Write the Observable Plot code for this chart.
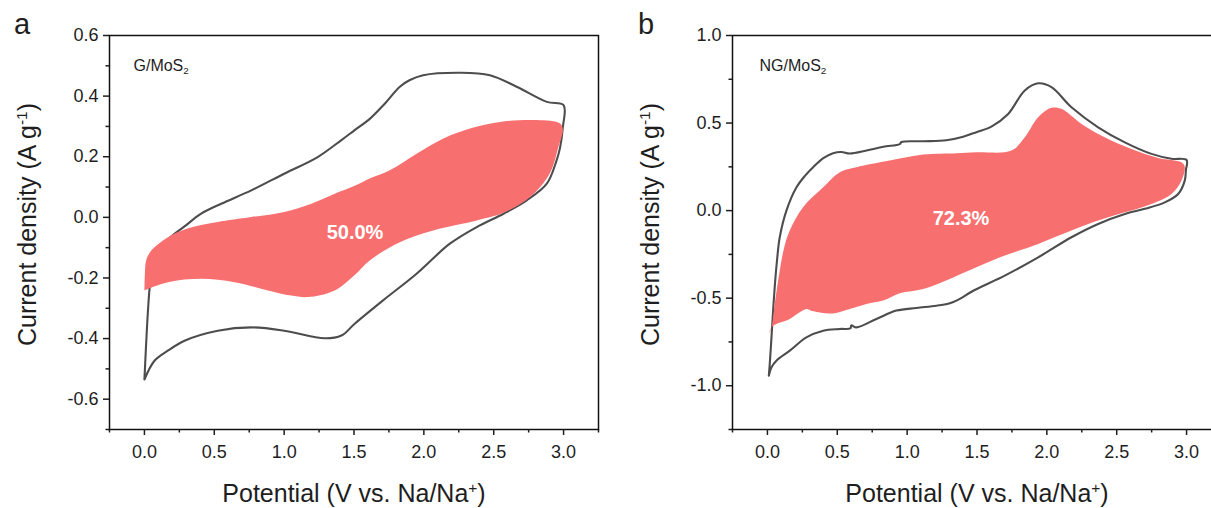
<!DOCTYPE html>
<html>
<head>
<meta charset="utf-8">
<script src="https://cdn.jsdelivr.net/npm/d3@7"></script>
<script src="https://cdn.jsdelivr.net/npm/@observablehq/plot@0.6"></script>
<style>
  html, body { margin: 0; padding: 0; background: #fff; width: 1211px; height: 508px; overflow: hidden; }
  #wrap { position: relative; width: 1211px; height: 508px; overflow: hidden; font-family: "Liberation Sans", Arial, sans-serif; color: #1e1e1e; }
  .panel { position: absolute; top: 0; width: 605px; height: 508px; }
  .panel svg { max-width: none !important; width: 605px; height: 508px; display: block; }
  .letter { position: absolute; top: 10px; font-size: 29px; line-height: 29px; z-index: 5; }
</style>
</head>
<body>
<div id="wrap">
  <div id="pa" class="panel" style="left:0px"></div>
  <div id="pb" class="panel" style="left:622.5px"></div>
  <div class="letter" style="left:14px">a</div>
  <div class="letter" style="left:638px">b</div>
</div>
<script>
// ---------- tick values & labels ----------
const xMajor = [0, 0.5, 1, 1.5, 2, 2.5, 3];
const xMinor = [-0.25, 0.25, 0.75, 1.25, 1.75, 2.25, 2.75, 3.25];
const xDomain = [-0.25, 3.25];
const aYMajor = [-0.6, -0.4, -0.2, 0, 0.2, 0.4, 0.6];
const aYMinor = [-0.7, -0.5, -0.3, -0.1, 0.1, 0.3, 0.5];
const aYDomain = [-0.7, 0.6];
const bYMajor = [-1, -0.5, 0, 0.5, 1];
const bYMinor = [-1.25, -0.75, -0.25, 0.25, 0.75];
const bYDomain = [-1.25, 1.0];

const xTitle = [["Potential (V vs. Na/Na", ""], ["+", "sup"], [")", ""]];
const yTitle = [["Current density (A g", ""], ["-1", "sup"], [")", ""]];
const aSample = [["G/MoS", ""], ["2", "sub"]];
const bSample = [["NG/MoS", ""], ["2", "sub"]];
const aPercent = "50.0%";
const bPercent = "72.3%";

// ---------- panel a: G/MoS2, total CV loop ----------
const aCvV = [0.000, 0.012, 0.024, 0.040, 0.065, 0.120, 0.200, 0.287, 0.406, 0.550, 0.765, 1.000, 1.240, 1.410, 1.505, 1.613, 1.720, 1.828, 1.900, 1.995, 2.258, 2.473, 2.664, 2.880, 3.000,
              2.995, 2.975, 2.950, 2.880, 2.736, 2.570, 2.378, 2.186, 1.948, 1.708, 1.505, 1.410, 1.290, 1.000, 0.765, 0.525, 0.287, 0.167, 0.072, 0.000];
const aCvI = [-0.535, -0.420, -0.318, -0.220, -0.150, -0.095, -0.060, -0.030, 0.012, 0.045, 0.089, 0.144, 0.199, 0.255, 0.288, 0.325, 0.375, 0.431, 0.453, 0.469, 0.477, 0.469, 0.431, 0.381, 0.370,
              0.298, 0.230, 0.188, 0.111, 0.056, 0.012, -0.032, -0.087, -0.186, -0.274, -0.351, -0.390, -0.399, -0.374, -0.363, -0.374, -0.407, -0.440, -0.473, -0.535];
// panel a: capacitive contribution region
const aCapV = [0.000, 0.003, 0.012, 0.040, 0.095, 0.180, 0.287, 0.406, 0.525, 0.765, 1.000, 1.195, 1.362, 1.505, 1.613, 1.756, 1.948, 2.140, 2.330, 2.545, 2.810, 2.975, 2.995,
               2.963, 2.900, 2.760, 2.570, 2.378, 2.067, 1.828, 1.613, 1.505, 1.362, 1.170, 1.050, 0.884, 0.645, 0.406, 0.167, 0.000];
const aCapI = [-0.241, -0.190, -0.142, -0.115, -0.090, -0.062, -0.040, -0.025, -0.015, 0.001, 0.018, 0.045, 0.078, 0.104, 0.128, 0.155, 0.210, 0.260, 0.293, 0.315, 0.321, 0.310, 0.290,
               0.232, 0.144, 0.067, 0.015, -0.010, -0.043, -0.082, -0.142, -0.190, -0.241, -0.263, -0.258, -0.241, -0.214, -0.203, -0.214, -0.241];

// ---------- panel b: NG/MoS2, total CV loop ----------
const bCvV = [0.010, 0.018, 0.029, 0.040, 0.052, 0.068, 0.088, 0.136, 0.208, 0.270, 0.327, 0.400, 0.470, 0.530, 0.589, 0.709, 0.830, 0.947, 0.960, 1.115, 1.281, 1.401, 1.496, 1.603, 1.723, 1.842, 1.938, 2.033, 2.176, 2.367, 2.558, 2.749, 2.892, 3.000,
              2.995, 2.987, 2.940, 2.844, 2.700, 2.558, 2.367, 2.176, 1.938, 1.699, 1.480, 1.353, 1.300, 1.210, 1.067, 0.923, 0.780, 0.637, 0.600, 0.595, 0.518, 0.399, 0.279, 0.160, 0.064, 0.029, 0.010];
const bCvI = [-0.943, -0.860, -0.724, -0.580, -0.438, -0.290, -0.153, 0.000, 0.133, 0.200, 0.248, 0.300, 0.328, 0.335, 0.326, 0.343, 0.365, 0.380, 0.392, 0.396, 0.402, 0.422, 0.448, 0.480, 0.552, 0.686, 0.727, 0.705, 0.590, 0.476, 0.390, 0.324, 0.296, 0.289,
              0.230, 0.171, 0.095, 0.047, 0.010, -0.019, -0.076, -0.152, -0.267, -0.371, -0.455, -0.514, -0.530, -0.543, -0.556, -0.571, -0.619, -0.667, -0.655, -0.672, -0.676, -0.686, -0.724, -0.800, -0.857, -0.895, -0.943];
// panel b: capacitive contribution region
const bCapV = [0.010, 0.029, 0.052, 0.088, 0.120, 0.160, 0.255, 0.399, 0.518, 0.637, 0.876, 1.115, 1.353, 1.496, 1.747, 1.842, 1.938, 2.033, 2.104, 2.248, 2.414, 2.606, 2.797, 2.963, 2.987,
               2.963, 2.892, 2.749, 2.558, 2.367, 2.176, 1.938, 1.699, 1.496, 1.305, 1.115, 0.947, 0.828, 0.709, 0.589, 0.470, 0.327, 0.279, 0.231, 0.160, 0.064, 0.029, 0.010];
const bCapI = [-0.700, -0.667, -0.533, -0.343, -0.210, -0.114, 0.019, 0.133, 0.219, 0.248, 0.286, 0.320, 0.328, 0.333, 0.343, 0.419, 0.533, 0.587, 0.581, 0.495, 0.419, 0.352, 0.301, 0.276, 0.250,
               0.171, 0.095, 0.038, -0.010, -0.057, -0.114, -0.190, -0.257, -0.324, -0.390, -0.448, -0.472, -0.514, -0.533, -0.562, -0.587, -0.575, -0.562, -0.581, -0.619, -0.648, -0.667, -0.700];

// ---------- drawing ----------
const FONT = '"Liberation Sans", Arial, sans-serif';
const RED = "#F86F6F";
const GRAY = "#4d4d4d";
const fmt = d => d.toFixed(1);
const toRows = (vs, is) => vs.map((v, k) => ({v, i: is[k]}));
const joinParts = parts => parts.map(p => p[0]).join("");

// turn a plain text element into tspans with super/subscripts
function richify(svg, parts, base) {
  const full = joinParts(parts);
  svg.querySelectorAll("text").forEach(t => {
    if (t.textContent !== full) return;
    while (t.firstChild) t.removeChild(t.firstChild);
    let shift = 0;
    parts.forEach(([s, kind]) => {
      const ts = document.createElementNS("http://www.w3.org/2000/svg", "tspan");
      ts.textContent = s;
      let target = 0;
      if (kind === "sup") { ts.setAttribute("font-size", base * 0.62); target = -base * 0.36; }
      else if (kind === "sub") { ts.setAttribute("font-size", base * 0.62); target = base * 0.2; }
      const d = target - shift;
      if (d !== 0) ts.setAttribute("dy", d);
      shift = target;
      t.appendChild(ts);
    });
  });
}

function panel(cv, cap, yDomain, yMajor, yMinor, sample, percent, pctDx, pctDy, sampleDx) {
  const svg = Plot.plot({
    width: 605, height: 508,
    marginLeft: 109, marginRight: 7, marginTop: 35, marginBottom: 79,
    x: {domain: xDomain, axis: null},
    y: {domain: yDomain, axis: null},
    style: {fontFamily: FONT, color: "#1e1e1e", background: "transparent", overflow: "visible"},
    marks: [
      Plot.line(cv, {x: "v", y: "i", stroke: GRAY, strokeWidth: 2.1, curve: "catmull-rom", strokeLinejoin: "round"}),
      Plot.line(cap, {x: "v", y: "i", fill: RED, stroke: "none", curve: "catmull-rom"}),
      Plot.frame({stroke: "#111", strokeWidth: 1.5}),
      Plot.axisX(xMinor, {tickSize: 3.5, tickFormat: () => "", strokeWidth: 1.5, label: null}),
      Plot.axisX(xMajor, {tickSize: 6, tickPadding: 10, tickFormat: fmt, fontSize: 18, strokeWidth: 1.5, label: null}),
      Plot.axisY(yMinor, {tickSize: 3.5, tickFormat: () => "", strokeWidth: 1.5, label: null}),
      Plot.axisY(yMajor, {tickSize: 6, tickPadding: 5, tickFormat: fmt, fontSize: 18, strokeWidth: 1.5, label: null}),
      Plot.text([joinParts(xTitle)], {text: d => d, frameAnchor: "bottom", dy: 64, fontSize: 25, textAnchor: "middle", lineAnchor: "middle"}),
      Plot.text([joinParts(yTitle)], {text: d => d, frameAnchor: "left", dx: -82, dy: -8, rotate: -90, fontSize: 25, textAnchor: "middle", lineAnchor: "middle"}),
      Plot.text([joinParts(sample)], {text: d => d, frameAnchor: "top-left", dx: sampleDx, dy: 30, fontSize: 16, textAnchor: "start", lineAnchor: "middle"}),
      Plot.text([percent], {text: d => d, frameAnchor: "middle", dx: pctDx, dy: pctDy, fontSize: 20, fontWeight: "bold", fill: "white", textAnchor: "middle", lineAnchor: "middle"})
    ]
  });
  richify(svg, xTitle, 25);
  richify(svg, yTitle, 25);
  richify(svg, sample, 16);
  return svg;
}

document.getElementById("pa").appendChild(
  panel(toRows(aCvV, aCvI), toRows(aCapV, aCapI), aYDomain, aYMajor, aYMinor, aSample, aPercent, 1, 0, 24));
document.getElementById("pb").appendChild(
  panel(toRows(bCvV, bCvI), toRows(bCapV, bCapI), bYDomain, bYMajor, bYMinor, bSample, bPercent, -16, -14, 27));
</script>
</body>
</html>
